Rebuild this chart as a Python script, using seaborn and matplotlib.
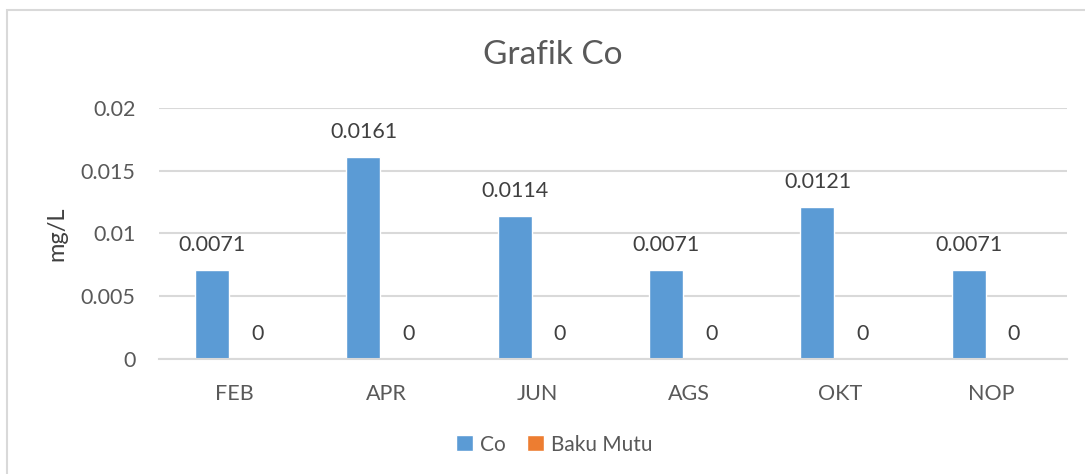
import pandas as pd
import matplotlib.pyplot as plt
import matplotlib.patches as mpatches
import seaborn as sns

months = ["FEB", "APR", "JUN", "AGS", "OKT", "NOP"]
co_values = [0.0071, 0.0161, 0.0114, 0.0071, 0.0121, 0.0071]
baku_mutu = [0, 0, 0, 0, 0, 0]
series_names = ["Co", "Baku Mutu"]
y_ticks = [0, 0.005, 0.01, 0.015, 0.02]
y_ticklabels = ["0", "0.005", "0.01", "0.015", "0.02"]

colors = {"Co": "#5B9BD5", "Baku Mutu": "#ED7D31"}
grid_color = "#D9D9D9"
text_color = "#595959"

df = pd.DataFrame({
    "bulan": months * 2,
    "seri": [series_names[0]] * len(months) + [series_names[1]] * len(months),
    "nilai": co_values + baku_mutu,
})

sns.set_style("white")
plt.rcParams["font.family"] = ["Lato", "DejaVu Sans"]

fig = plt.figure(figsize=(10.85, 4.74), dpi=100)
ax = fig.add_axes([0.1465, 0.2426, 0.8369, 0.5296])

sns.barplot(data=df, x="bulan", y="nilai", hue="seri", order=months,
            hue_order=series_names, palette=colors, width=0.595, gap=0.244,
            saturation=1, ax=ax, legend=True)

for container in ax.containers:
    ax.bar_label(container, labels=[f"{v:g}" for v in container.datavalues],
                 padding=11, fontsize=15.5, color="#404040")

ax.set_ylim(0, 0.02)
ax.set_xlim(-0.5, len(months) - 0.5)
ax.set_yticks(y_ticks)
ax.set_yticklabels(y_ticklabels)
ax.yaxis.grid(True, color=grid_color, linewidth=1.5)
ax.set_axisbelow(True)
for side in ["top", "right", "left"]:
    ax.spines[side].set_visible(False)
ax.spines["bottom"].set_color(grid_color)
ax.spines["bottom"].set_linewidth(1.5)
ax.tick_params(axis="both", length=0, labelsize=15.5, labelcolor=text_color)
ax.tick_params(axis="x", pad=18)
ax.tick_params(axis="y", pad=17)
ax.set_xlabel("")
ax.set_ylabel("mg/L", fontsize=17, color="#404040")
ax.yaxis.set_label_coords(-0.1013, 0.5)

fig.suptitle("Grafik Co", x=0.509, y=0.915, fontsize=24, color=text_color)

handles, labels = ax.get_legend_handles_labels()
ax.legend(handles, labels, loc="center", bbox_to_anchor=(0.511, 0.062),
          bbox_transform=fig.transFigure, ncol=2, frameon=False, fontsize=15,
          handlelength=0.8, handleheight=0.8, handletextpad=0.35,
          columnspacing=1.0, labelcolor=text_color)

# chart border like the spreadsheet frame
fig.patches.append(mpatches.Rectangle((7 / 1085, -0.05), 1.1, 1 - 10 / 474 + 0.05,
                                      transform=fig.transFigure, fill=False,
                                      edgecolor=grid_color, linewidth=1.5))

fig.savefig("out.png", dpi=100)
